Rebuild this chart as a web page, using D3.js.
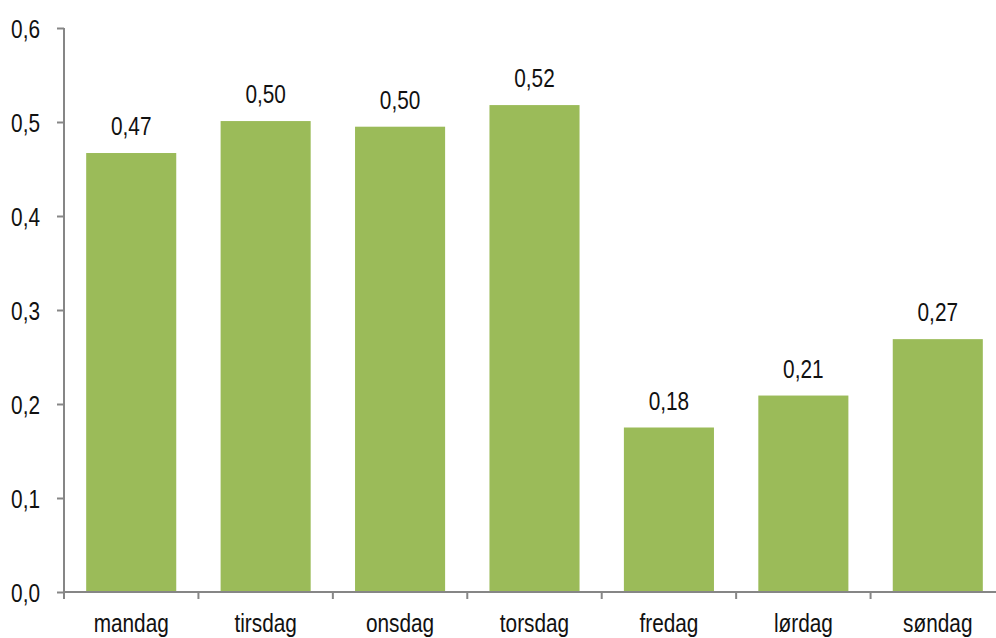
<html>
<head>
  <meta charset="utf-8">
  <script src="https://d3js.org/d3.v7.min.js"></script>
  <style>
    body { margin: 0; background: #fff; }
    text { font-family: "Liberation Sans", Arial, sans-serif; fill: #111; }
  </style>
</head>
<body>
  <div id="chart"></div>
  <script>
    // data
    var days = ["mandag", "tirsdag", "onsdag", "torsdag", "fredag", "lørdag", "søndag"];
    var values = [0.467, 0.501, 0.495, 0.518, 0.175, 0.209, 0.269];
    var labels = ["0,47", "0,50", "0,50", "0,52", "0,18", "0,21", "0,27"];
    var yTicks = [0, 0.1, 0.2, 0.3, 0.4, 0.5, 0.6];

    var W = 996, H = 638;
    var mLeft = 64, mRight = 1005, mTop = 28, mBottom = 592;
    var narrow = 0.8;   // squeeze Liberation Sans to look like a narrow font
    var fsize = 26;

    var svg = d3.select("#chart").append("svg")
        .attr("width", W)
        .attr("height", H);

    var x = d3.scaleBand()
        .domain(days)
        .range([mLeft, mRight])
        .paddingInner(0.33)
        .paddingOuter(0.165);

    var y = d3.scaleLinear()
        .domain([0, 0.6])
        .range([mBottom, mTop]);

    // bars
    svg.selectAll(".bar")
        .data(days)
        .enter().append("rect")
        .attr("class", "bar")
        .attr("x", function(d) { return x(d); })
        .attr("width", x.bandwidth())
        .attr("y", function(d, i) { return y(values[i]); })
        .attr("height", function(d, i) { return mBottom - y(values[i]); })
        .attr("fill", "#9bbb59");

    // value labels
    svg.selectAll(".val")
        .data(days)
        .enter().append("text")
        .attr("class", "val")
        .attr("transform", function(d, i) {
            return "translate(" + (x(d) + x.bandwidth() / 2) + "," + (y(values[i]) - 18) + ") scale(" + narrow + ",1)";
        })
        .attr("text-anchor", "middle")
        .attr("font-size", fsize)
        .text(function(d, i) { return labels[i]; });

    // y axis
    var yAxis = d3.axisLeft(y)
        .tickValues(yTicks)
        .tickSize(7)
        .tickFormat(function(d) { return d3.format(".1f")(d).replace(".", ","); });

    var gy = svg.append("g")
        .attr("transform", "translate(" + mLeft + ",0)")
        .call(yAxis);
    gy.select(".domain").attr("stroke", "#868686").attr("stroke-width", 2)
        .attr("d", "M0," + mTop + "V" + mBottom);
    gy.selectAll(".tick line").attr("stroke", "#868686").attr("stroke-width", 2);
    gy.selectAll(".tick text")
        .attr("font-size", fsize)
        .attr("dy", "0.35em")
        .attr("x", -24 / narrow)
        .attr("transform", "scale(" + narrow + ",1)")
        .style("font-family", "'Liberation Sans', Arial, sans-serif")
        .attr("fill", "#111");

    // x axis (baseline plus category separators)
    var gx = svg.append("g");
    gx.append("line")
        .attr("x1", mLeft).attr("x2", mRight)
        .attr("y1", mBottom).attr("y2", mBottom)
        .attr("stroke", "#868686").attr("stroke-width", 2);

    var bounds = d3.range(days.length + 1).map(function(i) { return mLeft + i * x.step(); });
    gx.selectAll(".xt")
        .data(bounds)
        .enter().append("line")
        .attr("class", "xt")
        .attr("x1", function(d) { return d; }).attr("x2", function(d) { return d; })
        .attr("y1", mBottom).attr("y2", mBottom + 7)
        .attr("stroke", "#868686").attr("stroke-width", 2);

    gx.selectAll(".xl")
        .data(days)
        .enter().append("text")
        .attr("class", "xl")
        .attr("transform", function(d) {
            return "translate(" + (x(d) + x.bandwidth() / 2) + ",632) scale(" + narrow + ",1)";
        })
        .attr("text-anchor", "middle")
        .attr("font-size", fsize)
        .text(function(d) { return d; });
  </script>
</body>
</html>
